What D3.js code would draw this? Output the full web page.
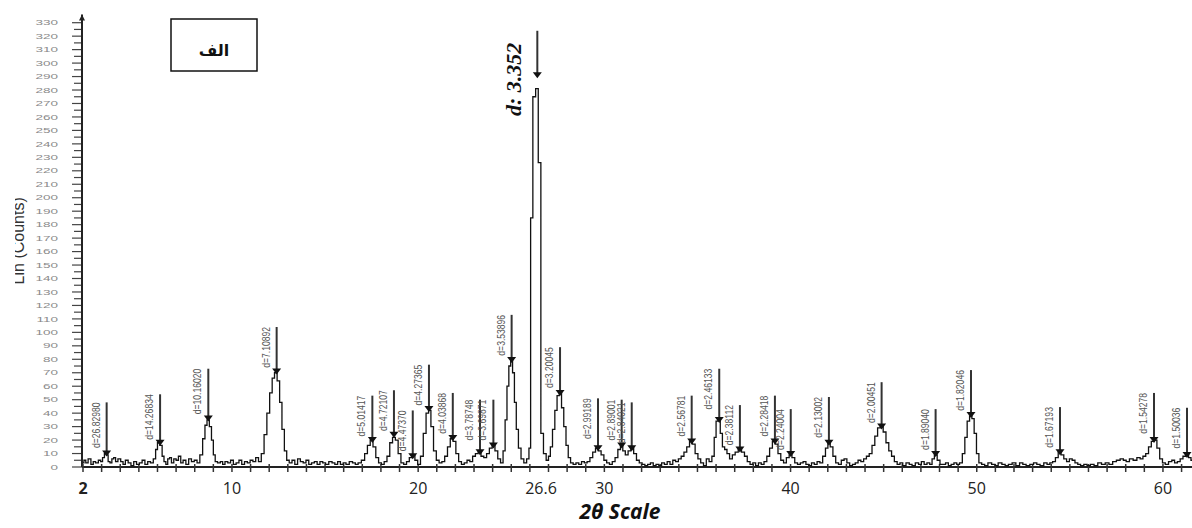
<!DOCTYPE html>
<html><head><meta charset="utf-8">
<script src="https://cdn.jsdelivr.net/npm/d3@7"></script>
<style>body{margin:0;background:#fff;} svg{display:block;}</style>
</head><body>
<svg id="chart" width="1192" height="528"></svg>
<script>
// ---------- data ----------
const xTickLabels = [2, 10, 20, 26.6, 30, 40, 50, 60];
const yTickLabels = d3.range(0, 331, 10);
const profile = [
 [2.0,3],[2.1,5],[2.2,3],[2.35,6],[2.5,2],[2.6,4],[2.75,3],[2.9,5],[3.0,4],
 [3.1,7],[3.2,10],[3.3,9],[3.4,4],
 [3.5,3],[3.6,6],[3.7,7],[3.8,4],[3.95,6],[4.1,4],[4.2,2],[4.35,5],[4.5,3],[4.65,1],[4.8,4],[4.95,2],[5.1,3],[5.25,5],[5.4,2],[5.55,4],[5.7,3],
 [5.85,6],[5.95,13],[6.05,18],[6.2,16],[6.3,8],[6.4,4],
 [6.5,2],[6.6,6],[6.7,7],[6.8,3],[6.95,6],[7.05,5],[7.2,8],[7.3,3],[7.45,5],[7.6,2],[7.75,6],[7.9,4],[8.05,5],[8.2,3],
 [8.35,9],[8.5,21],[8.6,31],[8.72,35],[8.85,30],[8.95,20],[9.05,9],[9.15,4],
 [9.3,3],[9.45,4],[9.55,2],[9.7,4],[9.85,3],[10.0,5],[10.15,2],[10.3,3],[10.45,5],[10.6,2],[10.75,4],[10.9,3],[11.05,5],[11.2,4],[11.35,7],[11.5,4],
 [11.65,10],[11.8,24],[11.95,40],[12.1,55],[12.22,66],[12.35,70],[12.5,64],[12.62,48],[12.75,28],[12.88,12],[13.0,5],
 [13.15,3],[13.3,5],[13.45,2],[13.6,6],[13.75,4],[13.9,3],[14.05,5],[14.2,2],[14.35,3],[14.5,4],[14.65,2],[14.8,4],[14.95,3],[15.1,2],[15.3,4],[15.45,3],[15.6,2],[15.75,4],[15.9,2],[16.05,3],[16.2,2],[16.4,4],[16.55,3],[16.7,2],[16.85,3],
 [17.05,5],[17.2,10],[17.35,16],[17.5,20],[17.65,15],[17.8,7],[17.95,3],
 [18.1,2],[18.25,4],
 [18.4,8],[18.55,18],[18.7,22],[18.85,20],[19.0,10],[19.15,3],
 [19.3,2],[19.45,4],
 [19.6,7],[19.75,9],[19.9,5],[20.05,2],
 [20.2,8],[20.35,25],[20.5,40],[20.62,42],[20.75,30],[20.9,12],[21.05,5],
 [21.2,3],[21.35,4],
 [21.5,8],[21.65,15],[21.8,21],[21.95,19],[22.1,10],[22.25,4],
 [22.4,2],[22.55,3],[22.7,5],[22.85,4],
 [23.0,8],[23.15,10],[23.3,11],[23.45,8],[23.6,7],
 [23.75,10],[23.9,14],[24.05,16],[24.2,12],[24.35,6],[24.5,3],
 [24.62,12],[24.72,35],[24.82,60],[24.92,75],[25.02,79],[25.12,70],[25.22,48],[25.32,28],[25.45,14],[25.6,6],[25.75,3],
 [25.9,6],[26.0,14],[26.08,185],[26.24,275],[26.38,281],[26.52,226],[26.66,25],[26.8,10],
 [26.95,5],[27.05,8],
 [27.15,15],[27.28,28],[27.4,42],[27.52,53],[27.64,55],[27.76,44],[27.88,30],[28.0,16],[28.12,7],[28.25,3],
 [28.4,2],[28.55,3],[28.7,2],[28.85,4],[29.0,3],[29.15,4],
 [29.3,7],[29.45,11],[29.6,14],[29.75,12],[29.9,9],[30.05,5],[30.2,3],
 [30.35,2],[30.5,4],
 [30.65,7],[30.8,13],[30.93,16],[31.05,12],[31.2,9],
 [31.35,12],[31.5,14],[31.65,10],[31.8,5],[31.95,3],
 [32.1,2],[32.25,1],[32.4,2],[32.55,3],[32.7,1],[32.85,2],[33.0,1],[33.15,3],[33.3,2],[33.45,4],[33.6,2],[33.75,5],[33.9,4],[34.05,6],
 [34.2,8],[34.35,11],[34.5,15],[34.65,19],[34.8,17],[34.95,10],[35.1,6],[35.25,3],
 [35.4,1],[35.55,6],[35.7,4],
 [35.85,8],[35.95,22],[36.05,34],[36.17,35],[36.28,25],[36.4,15],[36.52,13],[36.65,10],
 [36.8,6],[36.95,9],[37.1,11],[37.28,13],[37.45,11],[37.6,8],[37.75,4],
 [37.9,2],[38.05,3],[38.2,1],[38.35,3],[38.5,2],[38.65,4],
 [38.8,8],[38.95,14],[39.1,19],[39.25,17],[39.4,10],[39.55,5],
 [39.7,3],[39.85,7],[40.0,9],[40.15,7],[40.3,3],
 [40.45,2],[40.6,3],[40.75,4],[40.9,2],[41.05,1],[41.2,3],[41.35,2],[41.5,4],[41.65,3],
 [41.8,8],[41.95,14],[42.06,18],[42.2,15],[42.35,8],[42.5,3],
 [42.65,2],[42.8,5],[42.95,6],[43.1,3],[43.25,1],[43.4,2],[43.55,3],[43.7,5],[43.85,4],[44.0,6],[44.15,8],
 [44.3,10],[44.45,16],[44.6,23],[44.75,29],[44.9,30],[45.05,26],[45.2,18],[45.35,12],[45.5,8],[45.65,4],
 [45.8,2],[45.95,3],[46.1,1],[46.3,3],[46.45,2],[46.6,1],[46.8,3],[46.95,2],[47.1,4],[47.25,2],[47.4,3],[47.55,2],
 [47.65,6],[47.8,9],[47.95,5],[48.1,2],
 [48.25,2],[48.4,3],[48.55,1],[48.7,2],[48.85,3],[49.0,2],[49.15,3],
 [49.3,10],[49.42,22],[49.55,34],[49.68,38],[49.8,36],[49.92,25],[50.05,10],[50.18,3],
 [50.35,2],[50.5,1],[50.7,3],[50.9,2],[51.05,1],[51.25,3],[51.45,2],[51.6,1],[51.8,2],[52.0,3],[52.2,1],[52.4,3],[52.55,2],[52.75,1],[52.95,2],[53.15,3],[53.3,2],[53.5,1],[53.7,3],[53.85,2],[54.0,3],[54.15,4],
 [54.3,7],[54.45,11],[54.6,9],[54.75,6],[54.9,4],[55.05,6],[55.2,5],[55.35,3],[55.5,2],
 [55.65,1],[55.85,2],[56.0,1],[56.2,2],[56.4,1],[56.6,3],[56.8,2],[57.0,3],[57.2,2],[57.4,4],[57.6,5],[57.8,6],[57.95,5],[58.1,4],[58.3,6],[58.5,5],[58.7,7],[58.85,6],[59.0,8],
 [59.15,10],[59.3,15],[59.45,19],[59.6,20],[59.75,14],[59.9,6],[60.05,3],
 [60.2,2],[60.4,4],[60.55,5],[60.7,3],[60.85,4],[61.0,6],
 [61.15,8],[61.3,9],[61.45,7],[61.56,5]
];
const peakTheta  = [3.27, 6.14, 8.73, 12.40, 17.54, 18.70, 19.71, 20.58, 21.86, 23.32, 24.04, 25.02, 27.62, 29.66, 30.93, 31.47, 34.69, 36.17, 37.28, 39.16, 40.01, 42.06, 44.89, 47.79, 49.69, 54.47, 59.52, 61.29];
const peakMarker = [10, 18, 36, 71, 20, 24, 8, 43, 21.5, 11, 16, 79.5, 55, 14, 16, 14, 19, 35, 13, 19, 9.7, 18, 30, 9.7, 38.6, 11, 20, 9];
const peakTop    = [48, 54, 73, 104, 53, 57, 42, 76, 55, 50, 50, 113, 89, 51, 50, 48, 53, 73, 46, 53, 43, 52, 63, 43, 72, 44.5, 55, 44];
const peakLabel  = ["d=26.82980","d=14.26834","d=10.16020","d=7.10892","d=5.01417","d=4.72107","d=4.47370","d=4.27365","d=4.03868","d=3.78748","d=3.69871","d=3.53896","d=3.20045","d=2.99189","d=2.89001","d=2.84021","d=2.56781","d=2.46133","d=2.38112","d=2.28418","d=2.24004","d=2.13002","d=2.00451","d=1.89040","d=1.82046","d=1.67193","d=1.54278","d=1.50036"];
const mainPeak = {theta: 26.40, marker: 291, top: 324, label: "d: 3.352"};
const xTitle = "2θ Scale";
const yTitle = "Lin (Counts)";
const boxLabel = "الف";

// ---------- scales ----------
const svg = d3.select("#chart");
const x = d3.scaleLinear().domain([2, 61.56]).range([83, 1192]);
const y = d3.scaleLinear().domain([0, 330]).range([467, 22.7]);
const axisX = 82;

// y title (partially clipped like the reference)
svg.append("defs").append("clipPath").attr("id","ytclip")
  .append("rect").attr("x",15).attr("y",0).attr("width",60).attr("height",528);
svg.append("g").attr("clip-path","url(#ytclip)")
  .append("text")
  .attr("transform",`translate(24,${y(168)}) rotate(-90)`)
  .attr("text-anchor","middle").attr("font-family","Liberation Sans, sans-serif")
  .attr("font-size",16).attr("fill","#333").text(yTitle);

// y axis ticks and labels
const yMinor = d3.range(0, 331, 5);
svg.append("g").selectAll("line").data(yMinor).join("line")
  .attr("x1", d => axisX - (d % 10 === 0 ? 10 : 8)).attr("x2", axisX)
  .attr("y1", d => y(d)).attr("y2", d => y(d))
  .attr("stroke","#444").attr("stroke-width",1.2);
svg.append("g").selectAll("text").data(yTickLabels).join("text")
  .attr("transform", d => `translate(58,${y(d)}) scale(1.8,1)`)
  .attr("text-anchor","end").attr("dy","0.35em")
  .attr("font-family","Liberation Sans, sans-serif").attr("font-size",7.5)
  .attr("fill","#8a8a8a").text(d => d);
// y axis line + arrow
svg.append("line").attr("x1",axisX).attr("x2",axisX).attr("y1",y(0)).attr("y2",y(336))
  .attr("stroke","#222").attr("stroke-width",2);
svg.append("path").attr("d",`M${axisX-3},${y(336)+6} L${axisX+3},${y(336)+6} L${axisX},${y(336)} Z`).attr("fill","#222");

// x axis
svg.append("line").attr("x1",axisX).attr("x2",1192).attr("y1",y(0)).attr("y2",y(0))
  .attr("stroke","#222").attr("stroke-width",2);
svg.append("g").selectAll("line").data(d3.range(2, 62, 1)).join("line")
  .attr("x1", d => x(d)).attr("x2", d => x(d))
  .attr("y1", y(0) - 3).attr("y2", y(0) + 5)
  .attr("stroke","#333").attr("stroke-width",1.5);
svg.append("g").selectAll("text").data(xTickLabels).join("text")
  .attr("x", d => x(d)).attr("y", 494)
  .attr("text-anchor","middle").attr("font-family","Open Sans, sans-serif")
  .attr("font-size",16).attr("font-weight", d => d === 2 ? 700 : 400)
  .attr("fill","#222").text(d => d);
svg.append("text").attr("x",620).attr("y",519).attr("text-anchor","middle")
  .attr("font-family","Open Sans, sans-serif").attr("font-size",21)
  .attr("font-weight",700).attr("font-style","italic").attr("fill","#111").text(xTitle);

// profile
const line = d3.line().x(d => x(d[0])).y(d => y(d[1])).curve(d3.curveStep);
svg.append("path").datum(profile).attr("d", line)
  .attr("fill","none").attr("stroke","#111").attr("stroke-width",1.3);

// peak markers
const peaks = peakTheta.map((t,i) => ({t, m: peakMarker[i], top: peakTop[i], lab: peakLabel[i]}));
const pg = svg.append("g");
pg.selectAll("line").data(peaks).join("line")
  .attr("x1", d => x(d.t)).attr("x2", d => x(d.t))
  .attr("y1", d => y(d.top)).attr("y2", d => y(d.m))
  .attr("stroke","#333").attr("stroke-width",2);
pg.selectAll("path").data(peaks).join("path")
  .attr("d", d => { const px = x(d.t), py = y(d.m); return `M${px-4.5},${py-3} L${px+4.5},${py-3} L${px},${py+3} Z`; })
  .attr("fill","#111");
pg.selectAll("text").data(peaks).join("text")
  .attr("transform", d => `translate(${x(d.t)-7},${y(d.top)}) rotate(-90) scale(0.78,1)`)
  .attr("text-anchor","end").attr("font-family","Liberation Sans, sans-serif")
  .attr("font-size",11).attr("fill","#555").text(d => d.lab);

// main peak
const mx = x(mainPeak.theta);
svg.append("line").attr("x1",mx).attr("x2",mx).attr("y1",y(mainPeak.top)).attr("y2",y(mainPeak.marker))
  .attr("stroke","#333").attr("stroke-width",2);
svg.append("path").attr("d",`M${mx-4.5},${y(mainPeak.marker)-3} L${mx+4.5},${y(mainPeak.marker)-3} L${mx},${y(mainPeak.marker)+3} Z`).attr("fill","#111");
svg.append("text").attr("transform",`translate(${mx-16},${y(mainPeak.top)+12}) rotate(-90)`)
  .attr("text-anchor","end").attr("font-family","Liberation Serif, serif")
  .attr("font-size",22).attr("font-weight",700).attr("font-style","italic")
  .attr("fill","#111").text(mainPeak.label);

// box label
svg.append("rect").attr("x",171).attr("y",19).attr("width",86).attr("height",52)
  .attr("fill","#fff").attr("stroke","#111").attr("stroke-width",1.5);
svg.append("text").attr("x",214).attr("y",56).attr("text-anchor","middle")
  .attr("font-family","DejaVu Sans, sans-serif").attr("font-weight",700).attr("font-size",16)
  .attr("fill","#111").text(boxLabel);
</script>
</body></html>
